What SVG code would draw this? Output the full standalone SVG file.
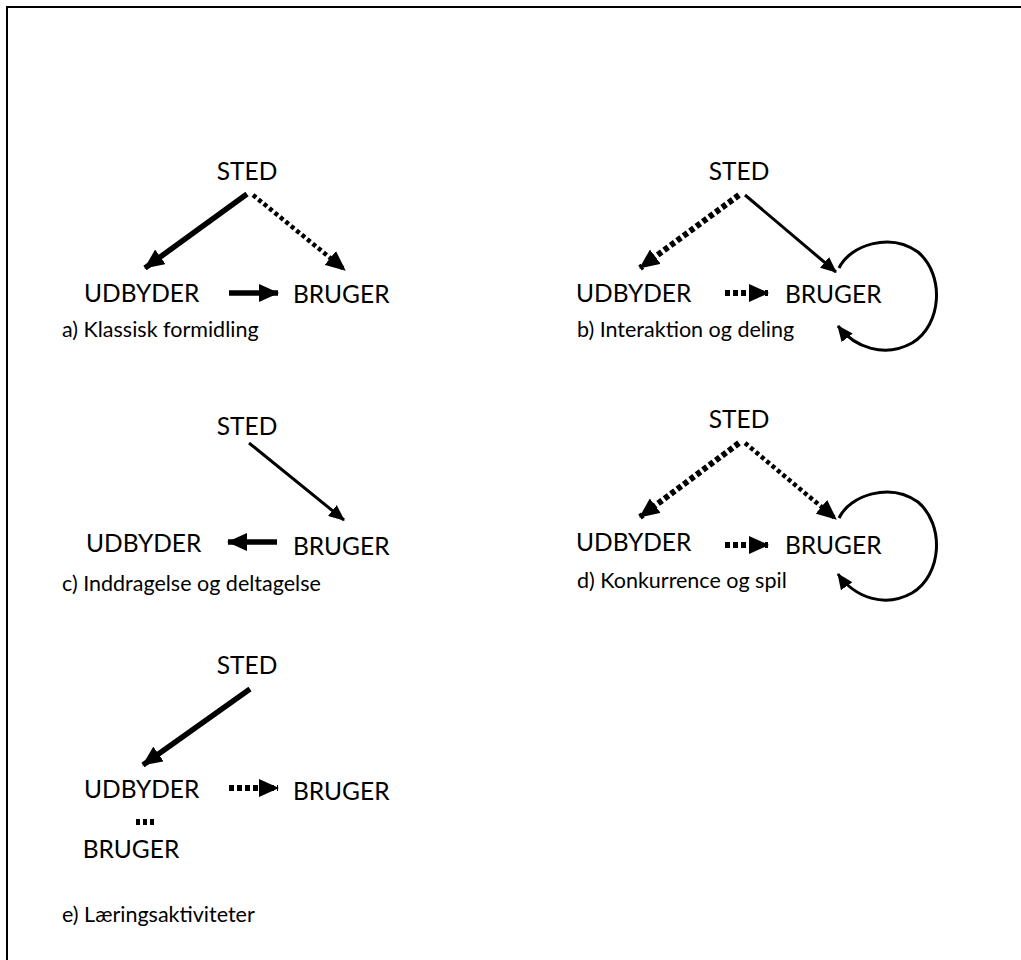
<svg xmlns="http://www.w3.org/2000/svg" width="1021" height="960" viewBox="0 0 1021 960">
<style>
.lbl{font-family:Lato,"Open Sans","Liberation Sans",sans-serif;font-size:24.5px;fill:#000}
.cap{font-family:Lato,"Open Sans","Liberation Sans",sans-serif;font-size:21.5px;fill:#000}
.thick{stroke:#000;stroke-width:5.5;fill:none}
.thin{stroke:#000;stroke-width:3;fill:none}
.dot{stroke:#000;stroke-width:6;fill:none;stroke-dasharray:5 3}
.dot2{stroke:#000;stroke-width:4.5;fill:none;stroke-dasharray:4 3}
</style>
<defs>
<marker id="ah" markerWidth="20" markerHeight="18" refX="19" refY="9" orient="auto" markerUnits="userSpaceOnUse"><path d="M0,0 L20,9 L0,18 z" fill="#000"/></marker>
<marker id="ah2" markerWidth="16" markerHeight="14" refX="15" refY="7" orient="auto" markerUnits="userSpaceOnUse"><path d="M0,0 L16,7 L0,14 z" fill="#000"/></marker>
</defs>
<rect x="7" y="7" width="1100" height="1100" fill="#fff" stroke="#000" stroke-width="2"/>

<g id="connectors">
<!-- a -->
<line class="thick" x1="247" y1="194" x2="145" y2="268" marker-end="url(#ah)"/>
<line class="dot2" x1="253" y1="195" x2="345" y2="270" marker-end="url(#ah)"/>
<line class="thick" x1="229" y1="293" x2="278" y2="293" marker-end="url(#ah)"/>
<!-- b -->
<line class="dot" x1="739" y1="195" x2="640" y2="268" marker-end="url(#ah)"/>
<line class="thin" x1="745" y1="195" x2="836" y2="272" marker-end="url(#ah2)"/>
<line class="dot" x1="725" y1="293" x2="768" y2="293" marker-end="url(#ah)"/>
<path class="thin" d="M839,268 C850,245 890,232 918,252 C945,275 942,325 912,343 C885,358 855,348 838,326" marker-end="url(#ah2)"/>
<!-- c -->
<line class="thin" x1="249" y1="443" x2="344" y2="520" marker-end="url(#ah2)"/>
<line class="thick" x1="277" y1="542" x2="228" y2="542" marker-end="url(#ah)"/>
<!-- d -->
<line class="dot" x1="739" y1="443" x2="640" y2="517" marker-end="url(#ah)"/>
<line class="dot2" x1="745" y1="443" x2="836" y2="519" marker-end="url(#ah)"/>
<line class="dot" x1="725" y1="545" x2="768" y2="545" marker-end="url(#ah)"/>
<path class="thin" d="M839,518 C850,495 890,482 918,502 C945,525 942,575 912,593 C885,608 855,598 838,574" marker-end="url(#ah2)"/>
<!-- e -->
<line class="thick" x1="250" y1="689" x2="143" y2="765" marker-end="url(#ah)"/>
<line class="dot" x1="229" y1="788" x2="278" y2="788" marker-end="url(#ah)"/>
<line stroke="#000" stroke-width="6" stroke-dasharray="4 3" x1="136" y1="822" x2="157" y2="822"/>
</g>

<g id="a">
<text class="lbl" x="247" y="180" text-anchor="middle">STED</text>
<text class="lbl" x="84" y="302">UDBYDER</text>
<text class="lbl" x="293" y="303">BRUGER</text>
<text class="cap" x="62" y="337">a) Klassisk formidling</text>
</g>
<g id="b">
<text class="lbl" x="739" y="180" text-anchor="middle">STED</text>
<text class="lbl" x="576" y="302">UDBYDER</text>
<text class="lbl" x="785" y="303">BRUGER</text>
<text class="cap" x="577" y="337">b) Interaktion og deling</text>
</g>
<g id="c">
<text class="lbl" x="247" y="435" text-anchor="middle">STED</text>
<text class="lbl" x="86" y="552">UDBYDER</text>
<text class="lbl" x="293" y="555">BRUGER</text>
<text class="cap" x="62" y="591">c) Inddragelse og deltagelse</text>
</g>
<g id="d">
<text class="lbl" x="739" y="428" text-anchor="middle">STED</text>
<text class="lbl" x="576" y="551">UDBYDER</text>
<text class="lbl" x="785" y="554">BRUGER</text>
<text class="cap" x="577" y="588">d) Konkurrence og spil</text>
</g>
<g id="e">
<text class="lbl" x="247" y="674" text-anchor="middle">STED</text>
<text class="lbl" x="84" y="798">UDBYDER</text>
<text class="lbl" x="293" y="800">BRUGER</text>
<text class="lbl" x="131" y="858" text-anchor="middle">BRUGER</text>
<text class="cap" x="62" y="922">e) Læringsaktiviteter</text>
</g>
</svg>
